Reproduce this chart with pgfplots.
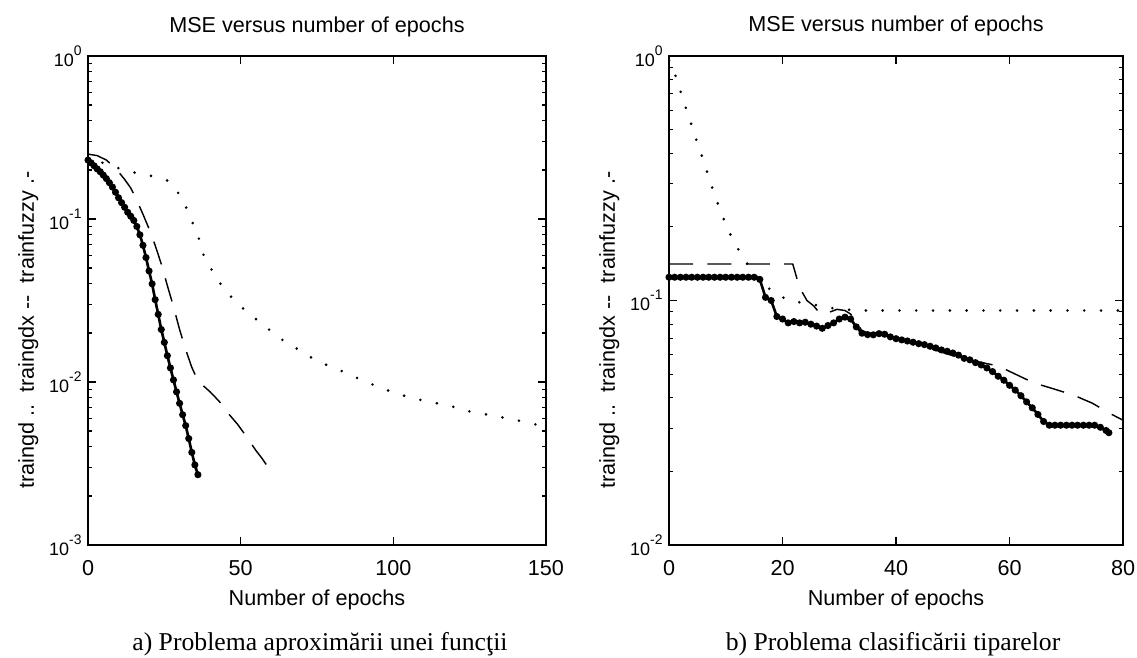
\documentclass[border=0pt]{standalone}
\usepackage{fontspec}
\setmainfont{Liberation Sans}
\newfontfamily\capfont{Liberation Serif}
\usepackage{pgfplots}
\pgfplotsset{compat=1.18}

% MATLAB style 10^k labels in the text font
\newcommand{\dec}[1]{{\fontsize{7.5}{8}\selectfont 10\raisebox{4.6pt}{\fontsize{5.8}{6}\selectfont #1}}}

\pgfplotsset{
  matlabaxis/.style={
    scale only axis,
    height=203.75pt,
    axis line style={line width=0.75pt},
    tick align=inside,
    tick pos=both,
    xticklabel pos=lower,
    yticklabel pos=left,
    major tick length=3.3pt,
    minor tick length=1.6pt,
    every tick/.style={black,line width=0.5pt},
    /pgf/number format/assume math mode=true,
    ticklabel style={font=\fontsize{9}{10}\selectfont},
    xticklabel style={anchor=base,yshift=-12.5pt},
    yticklabel style={inner sep=1pt,xshift=-1.5pt},
    title style={font=\fontsize{9}{10}\selectfont,at={(0.5,1)},anchor=base,yshift=4pt},
    xlabel style={font=\fontsize{9}{10}\selectfont,at={(0.5,0)},anchor=base,yshift=-25pt},
    ylabel style={font=\fontsize{9}{10}\selectfont,at={(ticklabel cs:0.44)}},
    title={MSE versus number of epochs},
    xlabel={Number of epochs},
    ylabel={traingd ..\ \ traingdx -{}-\ \ trainfuzzy .-},
  },
  fuzzy/.style={black,line width=1.1pt,mark=*,mark size=0.9pt},
  gdx/.style={black,line width=0.6pt,dash pattern=on 10pt off 6pt},
  gd/.style={black,line width=1.2pt,line cap=round,dash pattern=on 0pt off 7pt},
}

\begin{document}
\begin{tikzpicture}
\path[use as bounding box] (0,0) rectangle (473.75pt,273.75pt);

% a) function approximation
\begin{axis}[matlabaxis,
  ymode=log,yminorticks=true,
  at={(36.67pt,46.67pt)},anchor=south west,
  width=190.8pt,
  xmin=0,xmax=150,xtick={0,50,100,150},
  ymin=1e-3,ymax=1,
  ytick={1e-3,1e-2,1e-1,1},
  yticklabels={\dec{-3},\dec{-2},\dec{-1},\dec{0}},
]
\addplot[gd] coordinates {
  (0,0.25) (5,0.22) (10,0.205) (16,0.191) (22,0.182) (26,0.172) (28,0.16)
  (30,0.14) (31.2,0.13) (33.6,0.101) (36,0.08) (37.5,0.062) (40.7,0.048)
  (44.2,0.038) (48.4,0.031) (53,0.026) (58,0.022) (62.5,0.0187) (68,0.0162)
  (73.2,0.0141) (78.6,0.0126) (84,0.0115) (90,0.0102) (96,0.0092)
  (101,0.0085) (107,0.0079) (113,0.0075) (119,0.0071) (125,0.0066)
  (131,0.0063) (137,0.006) (143,0.0057) (150,0.0053)
};
\addplot[gdx] coordinates {
  (0,0.25) (3,0.245) (6,0.23) (9,0.205) (12,0.175) (14,0.155) (16,0.13)
  (18,0.107) (20,0.087) (22,0.069) (24,0.053) (26,0.039) (28,0.029)
  (30,0.021) (32,0.0158) (34,0.0123) (36,0.0102) (38,0.0094) (40,0.0087)
  (43,0.0076) (46,0.0064) (49,0.0055) (52,0.0046) (55,0.0038) (57,0.0034)
  (59,0.003)
};
\addplot[fuzzy] coordinates {
  (0,0.230) (1,0.221) (2,0.212) (3,0.203) (4,0.195) (5,0.186) (6,0.177)
  (7,0.167) (8,0.157) (9,0.146) (10,0.135) (11,0.126) (12,0.118) (13,0.110)
  (14,0.104) (15,0.098) (16,0.090) (17,0.080) (18,0.069) (19,0.058)
  (20,0.048) (21,0.040) (22,0.032) (23,0.026) (24,0.021) (25,0.0175)
  (26,0.0145) (27,0.0122) (28,0.0103) (29,0.0087) (30,0.0074) (31,0.0063)
  (32,0.0054) (33,0.0045) (34,0.0037) (35,0.0031) (36,0.0027)
};
\end{axis}

% b) pattern classification
\begin{axis}[matlabaxis,
  ymode=log,yminorticks=true,
  at={(278.75pt,46.67pt)},anchor=south west,
  width=189.2pt,
  xmin=0,xmax=80,xtick={0,20,40,60,80},
  ymin=1e-2,ymax=1,
  ytick={1e-2,1e-1,1},
  yticklabels={\dec{-2},\dec{-1},\dec{0}},
]
\addplot[gd] coordinates {
  (0,0.96) (1,0.85) (2,0.72) (3,0.61) (4,0.52) (5,0.44) (6,0.378) (7,0.32)
  (8,0.272) (9,0.235) (10,0.205) (11,0.182) (12,0.165) (14,0.139) (16,0.121)
  (18,0.11) (21,0.1) (24.6,0.097) (27.8,0.094) (30,0.092) (35,0.091)
  (80,0.091)
};
\addplot[gdx] coordinates {
  (0,0.141) (21.8,0.141) (23,0.113) (24.3,0.1) (25.5,0.095) (26.5,0.089)
  (27.5,0.088) (28.5,0.09) (29.6,0.092) (31,0.091) (32,0.088) (33,0.082)
  (34,0.075) (36,0.073) (40,0.0695) (44,0.066) (48,0.0615) (50,0.0595)
  (52,0.058) (54,0.0565) (56,0.0552) (58,0.054) (61,0.05) (64.3,0.046)
  (67.5,0.0437) (71.3,0.041) (74.6,0.038) (77.8,0.0344) (80,0.0324)
};
\addplot[fuzzy] coordinates {
  (0,0.1245) (1,0.1245) (2,0.1245) (3,0.1245) (4,0.1245) (5,0.1245)
  (6,0.1245) (7,0.1245) (8,0.1245) (9,0.1245) (10,0.1245) (11,0.1245)
  (12,0.1245) (13,0.1245) (14,0.1245) (15,0.1245) (16,0.122) (17,0.103)
  (18,0.100) (19,0.086) (20,0.084) (21,0.081) (22,0.082) (23,0.081)
  (24,0.0815) (25,0.080) (26,0.0786) (27,0.077) (28,0.079) (29,0.081)
  (30,0.084) (31,0.0855) (32,0.084) (33,0.078) (34,0.0735) (35,0.0725)
  (36,0.0724) (37,0.0732) (38,0.0728) (39,0.071) (40,0.0698) (41,0.069)
  (42,0.0683) (43,0.0675) (44,0.0666) (45,0.066) (46,0.065) (47,0.064)
  (48,0.0628) (49,0.062) (50,0.061) (51,0.0598) (52,0.058) (53,0.0572)
  (54,0.0557) (55,0.0545) (56,0.053) (57,0.0512) (58,0.049) (59,0.0472)
  (60,0.045) (61,0.043) (62,0.0408) (63,0.0385) (64,0.0364) (65,0.0342)
  (66,0.032) (67,0.0309) (68,0.0309) (69,0.0309) (70,0.0309) (71,0.0309)
  (72,0.0309) (73,0.0309) (74,0.0309) (75,0.0309) (76,0.0303) (77,0.0294)
  (77.5,0.0288)
};
\end{axis}

\node[font=\capfont\fontsize{10.7}{12}\selectfont,anchor=base] at (133.3pt,2.9pt)
  {a) Problema aproximării unei funcţii};
\node[font=\capfont\fontsize{10.7}{12}\selectfont,anchor=base] at (372.1pt,2.9pt)
  {b) Problema clasificării tiparelor};
\end{tikzpicture}
\end{document}
